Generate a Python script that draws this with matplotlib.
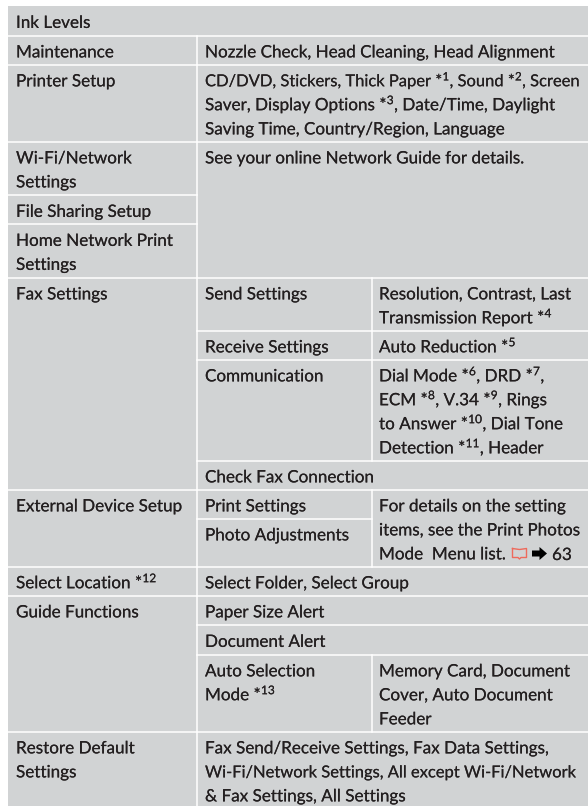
import matplotlib
matplotlib.use('Agg')
import matplotlib.pyplot as plt
import matplotlib.patheffects as pe

plt.rcParams['font.family'] = ['Lato', 'DejaVu Sans']
plt.rcParams['mathtext.fontset'] = 'custom'
plt.rcParams['mathtext.rm'] = 'Lato'
plt.rcParams['mathtext.it'] = 'Lato'
plt.rcParams['mathtext.bf'] = 'Lato'
plt.rcParams['mathtext.default'] = 'rm'

# (row index, line text) for each column
col1 = [
    (0, ['Ink Levels']),
    (1, ['Maintenance']),
    (2, ['Printer Setup']),
    (3, ['Wi-Fi/Network', 'Settings']),
    (4, ['File Sharing Setup']),
    (5, ['Home Network Print', 'Settings']),
    (6, ['Fax Settings']),
    (10, ['External Device Setup']),
    (12, ['Select Location *$^{12}$']),
    (13, ['Guide Functions']),
    (16, ['Restore Default', 'Settings']),
]
col2 = [
    (1, ['Nozzle Check, Head Cleaning, Head Alignment']),
    (2, ['CD/DVD, Stickers, Thick Paper *$^{1}$, Sound *$^{2}$, Screen',
         'Saver, Display Options *$^{3}$, Date/Time, Daylight',
         'Saving Time, Country/Region, Language']),
    (3, ['See your online Network Guide for details.']),
    (6, ['Send Settings']),
    (7, ['Receive Settings']),
    (8, ['Communication']),
    (9, ['Check Fax Connection']),
    (10, ['Print Settings']),
    (11, ['Photo Adjustments']),
    (12, ['Select Folder, Select Group']),
    (13, ['Paper Size Alert']),
    (14, ['Document Alert']),
    (15, ['Auto Selection', 'Mode *$^{13}$']),
    (16, ['Fax Send/Receive Settings, Fax Data Settings,',
          'Wi-Fi/Network Settings, All except Wi-Fi/Network',
          '& Fax Settings, All Settings']),
]
col3 = [
    (6, ['Resolution, Contrast, Last', 'Transmission Report *$^{4}$']),
    (7, ['Auto Reduction *$^{5}$']),
    (8, ['Dial Mode *$^{6}$, DRD *$^{7}$,',
         'ECM *$^{8}$, V.34 *$^{9}$, Rings',
         'to Answer *$^{10}$, Dial Tone',
         'Detection *$^{11}$, Header']),
    (10, ['For details on the setting',
          'items, see the Print Photos',
          'Mode  Menu list.']),
    (15, ['Memory Card, Document', 'Cover, Auto Document', 'Feeder']),
]
# these two run to the right edge in Lato
tight_lines = [col2[1][1][0], col2[-1][1][1]]

# table layout, pixels
rows = [6, 35.5, 64.5, 141.5, 195, 224, 277.5, 330.5, 359.5, 460.5, 489.5,
        518.5, 566.5, 595.5, 625, 654.5, 731.5, 806]
left, c2, c3, right = 8, 197, 371.5, 588
text_x = [16, 205, 379]
gray = '#d1d3d4'
ink = '#231f20'
fs = 12.3
rule = 1.1

# path effects keep the baselines on exact positions, small stroke for weight
heavy = [pe.withStroke(linewidth=0.08, foreground=ink)]

fig = plt.figure(figsize=(5.88, 8.06), dpi=100)
ax = fig.add_axes([0, 0, 1, 1])
ax.set_xlim(0, 588)
ax.set_ylim(806, 0)
ax.axis('off')

ax.fill_between([left, right], rows[0], rows[-1], color=gray, lw=0)

# white rules: full width, then col 1 only, then from col 2, then col 2 only
for i in [1, 2, 3, 6, 10, 12, 13, 16]:
    ax.plot([left, right], [rows[i], rows[i]], color='white', lw=rule)
for i in [4, 5]:
    ax.plot([left, c2], [rows[i], rows[i]], color='white', lw=rule)
for i in [7, 8, 9, 14, 15]:
    ax.plot([c2, right], [rows[i], rows[i]], color='white', lw=rule)
ax.plot([c2, c3], [rows[11], rows[11]], color='white', lw=rule)
ax.plot([c2, c2], [rows[1], rows[-1]], color='white', lw=rule)
for a, b in [(6, 9), (10, 12), (15, 16)]:
    ax.plot([c3, c3], [rows[a], rows[b]], color='white', lw=rule)

for x, col in zip(text_x, [col1, col2, col3]):
    for r, lines in col:
        for n, line in enumerate(lines):
            size = 11.9 if line in tight_lines else fs
            ax.text(x, rows[r] + 21.9 + 24 * n, line, fontsize=size, color=ink,
                    va='baseline', ha='left', path_effects=heavy)

# page reference icons and number
red = '#ee6a5c'
ax.plot([512.5, 519.5, 526.5, 526.5, 521, 519.5, 518, 512.5, 512.5],
        [548.5, 549.5, 548.5, 557.5, 557.5, 559, 557.5, 557.5, 548.5],
        color=red, lw=1.0)
ax.fill([532, 539.5, 539.5, 547, 539.5, 539.5, 532],
        [550.5, 550.5, 547, 553.5, 560, 556.5, 556.5], color='black', lw=0)
ax.text(552, 560, '63', fontsize=fs, color=ink, va='baseline', path_effects=heavy)

fig.savefig('out.png', dpi=100)
